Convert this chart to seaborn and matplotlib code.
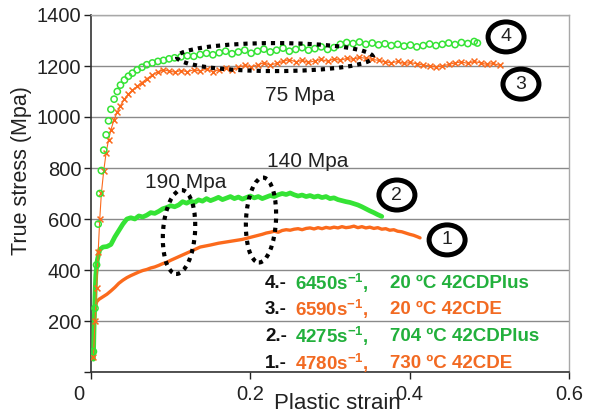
import numpy as np
import pandas as pd
import matplotlib
matplotlib.use("Agg")
import matplotlib.pyplot as plt
import seaborn as sns
from matplotlib.patches import Ellipse
from matplotlib.transforms import ScaledTranslation

# ==========================================
# data
# ==========================================
# 4.- 6450 s^-1, 20 C 42CDPlus (green circles)
strain_4 = [0.003, 0.005, 0.007, 0.009, 0.011, 0.013, 0.016, 0.019, 0.022, 0.025,
            0.029, 0.033, 0.037, 0.042, 0.047, 0.052, 0.058, 0.064, 0.070, 0.077,
            0.084, 0.091, 0.098, 0.105, 0.113, 0.121, 0.129, 0.137, 0.145, 0.153,
            0.161, 0.169, 0.177, 0.185, 0.193, 0.201, 0.209, 0.217, 0.225, 0.233,
            0.241, 0.249, 0.257, 0.265, 0.273, 0.281, 0.289, 0.297, 0.305, 0.313,
            0.321, 0.329, 0.337, 0.345, 0.353, 0.361, 0.369, 0.377, 0.385, 0.393,
            0.401, 0.409, 0.417, 0.425, 0.433, 0.441, 0.449, 0.457, 0.465, 0.473,
            0.481, 0.485]
stress_4 = [80, 250, 420, 580, 700, 790, 870, 930, 985, 1030,
            1070, 1100, 1125, 1145, 1160, 1172, 1185, 1195, 1205, 1212,
            1218, 1222, 1228, 1232, 1236, 1240, 1238, 1245, 1250, 1244,
            1252, 1258, 1248, 1255, 1262, 1250, 1258, 1266, 1255, 1262,
            1270, 1258, 1265, 1272, 1262, 1268, 1275, 1265, 1272, 1285,
            1292, 1288, 1294, 1285, 1290, 1283, 1287, 1280, 1285, 1278,
            1282, 1275, 1280, 1286, 1280, 1285, 1290, 1284, 1292, 1288,
            1296, 1290]

# 3.- 6590 s^-1, 20 C 42CDE (orange crosses)
strain_3 = [0.003, 0.005, 0.007, 0.009, 0.011, 0.013, 0.016, 0.019, 0.022, 0.025,
            0.029, 0.033, 0.037, 0.042, 0.047, 0.052, 0.058, 0.064, 0.070, 0.077,
            0.084, 0.091, 0.098, 0.105, 0.113, 0.121, 0.129, 0.137, 0.145, 0.153,
            0.161, 0.169, 0.177, 0.185, 0.193, 0.201, 0.209, 0.217, 0.225, 0.233,
            0.241, 0.249, 0.257, 0.265, 0.273, 0.281, 0.289, 0.297, 0.305, 0.313,
            0.321, 0.329, 0.337, 0.345, 0.353, 0.361, 0.369, 0.377, 0.385, 0.393,
            0.401, 0.409, 0.417, 0.425, 0.433, 0.441, 0.449, 0.457, 0.465, 0.473,
            0.481, 0.489, 0.497, 0.505, 0.513]
stress_3 = [60, 200, 330, 470, 600, 700, 790, 860, 910, 950,
            990, 1020, 1045, 1070, 1090, 1105, 1120, 1135, 1150, 1165,
            1178, 1185, 1180, 1176, 1182, 1178, 1185, 1180, 1188, 1178,
            1185, 1192, 1184, 1195, 1202, 1196, 1205, 1212, 1204, 1210,
            1218, 1225, 1216, 1222, 1214, 1220, 1226, 1218, 1228, 1222,
            1230, 1226, 1234, 1230, 1226, 1222, 1216, 1212, 1218, 1210,
            1214, 1208, 1204, 1200, 1196, 1200, 1206, 1212, 1216, 1210,
            1218, 1212, 1206, 1210, 1202]

# 2.- 4275 s^-1, 704 C 42CDPlus (green line)
strain_2 = [0.003, 0.004, 0.005, 0.006, 0.008, 0.011, 0.015, 0.020, 0.025, 0.030,
            0.035, 0.040, 0.045, 0.050, 0.055, 0.060, 0.065, 0.070, 0.075, 0.080,
            0.085, 0.090, 0.095, 0.100, 0.105, 0.110, 0.115, 0.120, 0.125, 0.130,
            0.135, 0.140, 0.145, 0.150, 0.155, 0.160, 0.165, 0.170, 0.175, 0.180,
            0.185, 0.190, 0.195, 0.200, 0.205, 0.210, 0.215, 0.220, 0.225, 0.230,
            0.235, 0.240, 0.245, 0.250, 0.255, 0.260, 0.265, 0.270, 0.275, 0.280,
            0.285, 0.290, 0.295, 0.300, 0.305, 0.310, 0.315, 0.320, 0.325, 0.330,
            0.335, 0.340, 0.345, 0.350, 0.355, 0.360, 0.365]
stress_2 = [50, 200, 300, 380, 440, 480, 490, 492, 500, 530,
            555, 580, 600, 605, 600, 612, 608, 615, 625, 622,
            630, 640, 645, 652, 648, 655, 668, 662, 670, 665,
            675, 670, 680, 672, 678, 685, 676, 682, 688, 680,
            686, 678, 684, 690, 683, 688, 680, 686, 692, 688,
            695, 700, 696, 702, 695, 690, 694, 688, 692, 686,
            690, 684, 688, 680, 683, 676, 672, 668, 665, 660,
            655, 648, 640, 632, 625, 617, 610]

# 1.- 4780 s^-1, 730 C 42CDE (orange line)
strain_1 = [0.003, 0.004, 0.005, 0.007, 0.010, 0.015, 0.020, 0.025, 0.030, 0.035,
            0.040, 0.045, 0.050, 0.055, 0.060, 0.065, 0.070, 0.075, 0.080, 0.085,
            0.090, 0.095, 0.100, 0.110, 0.120, 0.130, 0.137, 0.150, 0.160, 0.170,
            0.180, 0.190, 0.200, 0.205, 0.210, 0.215, 0.220, 0.225, 0.230, 0.235,
            0.240, 0.245, 0.250, 0.255, 0.260, 0.265, 0.270, 0.275, 0.280, 0.285,
            0.290, 0.295, 0.300, 0.305, 0.310, 0.315, 0.320, 0.325, 0.330, 0.335,
            0.340, 0.345, 0.350, 0.355, 0.360, 0.365, 0.370, 0.375, 0.380, 0.385,
            0.390, 0.395, 0.400, 0.405, 0.410, 0.413]
stress_1 = [50, 180, 240, 275, 285, 295, 305, 318, 332, 348,
            360, 370, 378, 385, 392, 398, 402, 408, 412, 418,
            425, 430, 438, 452, 466, 480, 490, 498, 505, 510,
            515, 520, 528, 532, 536, 540, 545, 548, 552, 548,
            555, 558, 556, 560, 562, 558, 563, 565, 561, 566,
            562, 567, 564, 568, 565, 570, 566, 568, 572, 566,
            570, 565, 568, 563, 566, 560, 562, 556, 558, 552,
            550, 545, 540, 536, 530, 526]

legend_ids = ["4.-", "3.-", "2.-", "1.-"]
legend_rates = ["6450", "6590", "4275", "4780"]
legend_conds = ["20 \u00baC 42CDPlus", "20 \u00baC 42CDE",
                "704 \u00baC 42CDPlus", "730 \u00baC 42CDE"]

x_ticks = [0, 0.2, 0.4, 0.6]
x_tick_labels = ["0", "0.2", "0.4", "0.6"]
y_ticks = [0, 200, 400, 600, 800, 1000, 1200, 1400]
y_tick_labels = ["", "200", "400", "600", "800", "1000", "1200", "1400"]

GREEN = "#35e335"
ORANGE = "#fb6a1c"
GREEN_TXT = "#22b03c"
ORANGE_TXT = "#f26a22"

# ==========================================
# style
# ==========================================
sns.set_theme(style="white")
plt.rcParams['font.family'] = ['Liberation Sans', 'DejaVu Sans']
plt.rcParams['mathtext.fontset'] = 'custom'
plt.rcParams['mathtext.rm'] = 'Liberation Sans'
plt.rcParams['mathtext.bf'] = 'Liberation Sans:bold'
plt.rcParams['mathtext.default'] = 'bf'

fig = plt.figure(figsize=(5.97, 4.15), dpi=100)
ax = fig.add_axes([91 / 597, 1 - 372 / 415, 478 / 597, 357 / 415])

df4 = pd.DataFrame({"strain": strain_4, "stress": stress_4})
df3 = pd.DataFrame({"strain": strain_3, "stress": stress_3})
df2 = pd.DataFrame({"strain": strain_2, "stress": stress_2})
df1 = pd.DataFrame({"strain": strain_1, "stress": stress_1})

# thick lines (curves 1 and 2)
sns.lineplot(data=df1, x="strain", y="stress", ax=ax, color=ORANGE, linewidth=2.4,
             estimator=None, sort=False, zorder=3)
sns.lineplot(data=df2, x="strain", y="stress", ax=ax, color=GREEN, linewidth=3.4,
             estimator=None, sort=False, zorder=3)
# marker curves (3 and 4)
sns.lineplot(data=df3, x="strain", y="stress", ax=ax, color=ORANGE, linewidth=0.8,
             estimator=None, sort=False, zorder=3)
sns.scatterplot(data=df3, x="strain", y="stress", ax=ax, color=ORANGE, marker="x",
                s=18, linewidth=1.1, zorder=3)
sns.scatterplot(data=df4, x="strain", y="stress", ax=ax, marker="o", s=20,
                fc="none", ec=GREEN, linewidth=1.1, zorder=4)

ax.set_xlim(0, 0.6)
ax.set_ylim(0, 1400)
ax.set_xticks(x_ticks)
ax.set_xticklabels(x_tick_labels)
ax.set_yticks(y_ticks)
ax.set_yticklabels(y_tick_labels)
ax.tick_params(axis="both", labelsize=14.5, colors="#222222", length=5, width=1,
               direction="out", bottom=True, left=True)
ax.tick_params(axis="x", pad=4)
ax.tick_params(axis="y", pad=2)
ax.grid(axis="y", color="#8a8a8a", lw=1)
ax.set_axisbelow(True)
for s in ["top", "right"]:
    ax.spines[s].set_color("#a8a8a8")
    ax.spines[s].set_linewidth(1)
for s in ["left", "bottom"]:
    ax.spines[s].set_color("#333333")
    ax.spines[s].set_linewidth(1.2)

# the "0" under the axis sits a bit left of the tick in the original
for lab in ax.get_xticklabels():
    if lab.get_text() == "0":
        lab.set_transform(lab.get_transform() + ScaledTranslation(-0.12, 0, fig.dpi_scale_trans))

ax.set_xlabel("Plastic strain", fontsize=16, color="#222222")
ax.set_ylabel("True stress (Mpa)", fontsize=15.5, color="#222222")
ax.xaxis.set_label_coords((337 - 91) / 478, (372 - 403) / 357)
ax.xaxis.label.set_va("center")
ax.yaxis.set_label_coords((22 - 91) / 478, (372 - 171) / 357)
ax.yaxis.label.set_va("center")


# ==========================================
# annotations (ellipses sized in pixels)
# ==========================================
def px_ellipse(xd, yd, w_px, h_px, angle=0, **kw):
    tr = fig.dpi_scale_trans + ScaledTranslation(xd, yd, ax.transData)
    e = Ellipse((0, 0), w_px / fig.dpi, h_px / fig.dpi, angle=angle,
                transform=tr, fill=False, clip_on=False, **kw)
    ax.add_patch(e)


dotted = dict(ec="black", lw=3, ls=(0, (1, 1.2)), zorder=5)
px_ellipse(0.231, 1235, 196, 28, 0, **dotted)
px_ellipse(0.1105, 549, 32, 84, -4, **dotted)
px_ellipse(0.2134, 596, 30, 85, -3, **dotted)

ax.text(0.262, 1086, "75 Mpa", fontsize=15, ha="center", va="center", color="#222222")
ax.text(0.272, 824, "140 Mpa", fontsize=15, ha="center", va="center", color="#222222")
ax.text(0.119, 745, "190 Mpa", fontsize=15, ha="center", va="center", color="#222222")

circles = [("4", 0.521, 1314), ("3", 0.5397, 1129), ("2", 0.384, 694), ("1", 0.447, 518)]
for num, cx, cy in circles:
    px_ellipse(cx, cy, 36, 30, 0, ec="black", lw=3.6, zorder=6)
    ax.text(cx, cy, num, fontsize=14, ha="center", va="center", color="#222222",
            zorder=7, clip_on=False)

# legend block
row_py = [283, 309, 336, 363]
row_col = [GREEN_TXT, ORANGE_TXT, GREEN_TXT, ORANGE_TXT]
for i in range(4):
    yy = (372 - row_py[i]) / 357
    ax.text((265 - 91) / 478, yy, legend_ids[i], transform=ax.transAxes, fontsize=13.5,
            fontweight="bold", color="#111111", ha="left", va="center", zorder=8)
    ax.text((295 - 91) / 478, yy, legend_rates[i] + r"s$^{-1}$,", transform=ax.transAxes,
            fontsize=13.5, fontweight="bold", color=row_col[i], ha="left", va="center", zorder=8)
    ax.text((390 - 91) / 478, yy, legend_conds[i], transform=ax.transAxes, fontsize=13.5,
            fontweight="bold", color=row_col[i], ha="left", va="center", zorder=8)

fig.savefig("out.png", dpi=100)
